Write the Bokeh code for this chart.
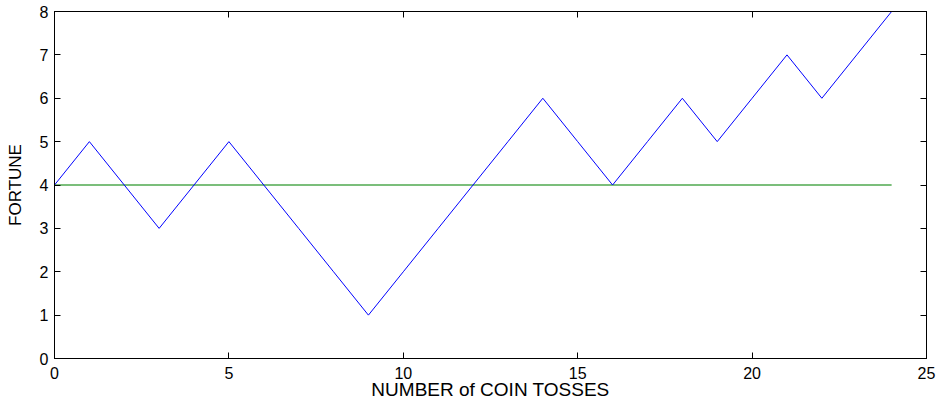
from bokeh.plotting import figure
from bokeh.models import LinearAxis, FixedTicker, Range1d
from bokeh.embed import file_html
from bokeh.resources import INLINE

tosses = list(range(25))
fortune = [4, 5, 4, 3, 4, 5, 4, 3, 2, 1, 2, 3, 4, 5, 6, 5, 4, 5, 6, 5, 6, 7, 6, 7, 8]
start_x = [0, 24]
start_y = [4, 4]
x_ticks = [0, 5, 10, 15, 20, 25]
y_ticks = [0, 1, 2, 3, 4, 5, 6, 7, 8]

FONT = "Liberation Sans"

p = figure(width=937, height=402, output_backend="svg", toolbar_location=None,
           x_range=Range1d(0, 25), y_range=Range1d(0, 8),
           min_border_left=54, min_border_right=11, min_border_top=11, min_border_bottom=43)
p.outline_line_color = "black"
p.outline_line_width = 1
p.xgrid.visible = False
p.ygrid.visible = False
p.background_fill_color = "white"
p.border_fill_color = "white"

p.line(start_x, start_y, line_color="#4fa84f", line_width=1.6)
p.line(tosses, fortune, line_color="#0000ff", line_width=1)

def style(ax, ticks, labels=True):
    ax.ticker = FixedTicker(ticks=ticks)
    ax.major_tick_in = 6
    ax.major_tick_out = 0
    ax.minor_tick_line_color = None
    ax.major_tick_line_color = "black"
    ax.axis_line_color = "black"
    ax.major_label_text_font = FONT
    ax.major_label_text_font_size = "16px"
    ax.major_label_text_color = "black"
    ax.axis_label_text_font = FONT
    ax.axis_label_text_font_size = "17px"
    ax.axis_label_text_font_style = "normal"
    ax.axis_label_text_color = "black"
    if not labels:
        ax.major_label_text_font_size = "0px"
        ax.major_label_standoff = 0

xa = p.xaxis[0]
ya = p.yaxis[0]
style(xa, x_ticks)
style(ya, y_ticks)
xa.axis_label = "NUMBER of COIN TOSSES"
ya.axis_label = "FORTUNE"
xa.axis_label_text_font_size = "19px"
xa.major_label_standoff = 8
ya.major_label_standoff = 6
xa.axis_label_standoff = -3
ya.axis_label_standoff = 12

top = LinearAxis()
style(top, x_ticks, labels=False)
p.add_layout(top, "above")
right = LinearAxis()
style(right, y_ticks, labels=False)
p.add_layout(right, "right")

open("out.html", "w").write(file_html(p, INLINE))
